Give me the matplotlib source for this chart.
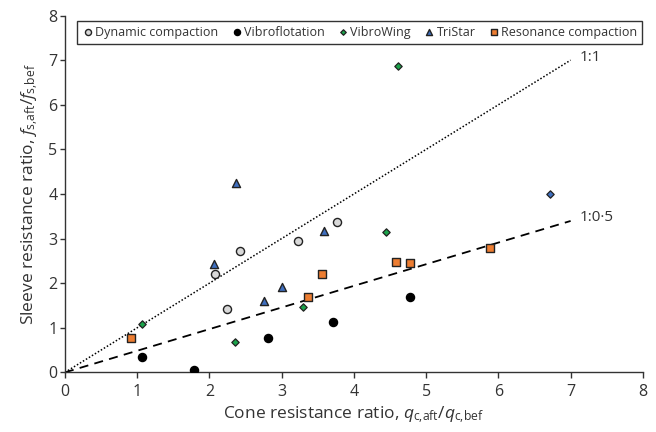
import matplotlib
matplotlib.use('Agg')
import numpy as np
from matplotlib import pyplot as plt

plt.rcParams['font.family'] = ['Open Sans', 'DejaVu Sans']
plt.rcParams['mathtext.fontset'] = 'custom'
plt.rcParams['mathtext.rm'] = 'Open Sans'
plt.rcParams['mathtext.it'] = 'Open Sans:italic'

# Data
dyn_x = [2.08, 2.42, 2.25, 3.23, 3.77]
dyn_y = [2.20, 2.72, 1.42, 2.95, 3.37]

vflot_x = [1.06, 1.78, 2.81, 3.71, 4.78]
vflot_y = [0.35, 0.06, 0.77, 1.14, 1.69]

vwing_x = [1.07, 2.36, 3.29, 4.44, 4.61]
vwing_y = [1.09, 0.69, 1.47, 3.15, 6.88]

tristar_x = [2.37, 2.06, 2.76, 3.00, 3.58]
tristar_y = [4.24, 2.43, 1.59, 1.92, 3.16]

# one blue point drawn as a diamond
tristar_d_x = [6.72]
tristar_d_y = [4.00]

reso_x = [0.92, 3.36, 3.56, 4.58, 4.78, 5.89]
reso_y = [0.77, 1.68, 2.20, 2.48, 2.45, 2.78]

line_x = [0, 7]
slope_11 = 1.0
slope_105 = 0.485

txt = '#333333'

fig = plt.figure(figsize=(6.56, 4.32), dpi=100)
ax = fig.add_axes([0.099, 0.138, 0.881, 0.826])

ax.plot(line_x, [slope_11 * v for v in line_x], ls=(0, (1, 1.3)), color='black', lw=1.1)
ax.plot(line_x, [slope_105 * v for v in line_x], ls=(0, (5, 3.5)), color='black', lw=1.3)
ax.text(7.13, 7.05, '1:1', fontsize=11, color=txt, va='center', ha='left')
ax.text(7.12, 3.48, '1:0·5', fontsize=11, color=txt, va='center', ha='left')

ax.scatter(dyn_x, dyn_y, marker='o', s=34, facecolor='#d9d9d9', edgecolor='#222222',
           linewidth=1.0, label='Dynamic compaction', zorder=3)
ax.scatter(vflot_x, vflot_y, marker='o', s=34, facecolor='black', edgecolor='black',
           linewidth=1.0, label='Vibroflotation', zorder=3)
ax.scatter(vwing_x, vwing_y, marker='D', s=14, facecolor='#1aa34a', edgecolor='#222222',
           linewidth=0.9, label='VibroWing', zorder=3)
ax.scatter(tristar_x, tristar_y, marker='^', s=34, facecolor='#3f6fbf', edgecolor='#222222',
           linewidth=1.0, label='TriStar', zorder=3)
ax.scatter(tristar_d_x, tristar_d_y, marker='D', s=14, facecolor='#3f6fbf', edgecolor='#222222',
           linewidth=0.9, zorder=3)
ax.scatter(reso_x, reso_y, marker='s', s=34, facecolor='#ed7d31', edgecolor='#222222',
           linewidth=1.0, label='Resonance compaction', zorder=3)

ax.set_xlim(0, 8)
ax.set_ylim(0, 8)
ax.set_xticks(range(0, 9))
ax.set_yticks(range(0, 9))
for s in ['top', 'right']:
    ax.spines[s].set_visible(False)
for s in ['left', 'bottom']:
    ax.spines[s].set_color('#333333')
    ax.spines[s].set_linewidth(1.0)
ax.tick_params(direction='out', width=1.0, color='#333333',
               labelsize=11.5, labelcolor=txt)
ax.tick_params(axis='x', length=4.5, pad=4)
ax.tick_params(axis='y', length=3.5, pad=2)

ax.set_xlabel(r'Cone resistance ratio, $q_{\mathrm{c{,}aft}}/q_{\mathrm{c{,}bef}}$',
              fontsize=12.5, color=txt, labelpad=3)
ax.set_ylabel(r'Sleeve resistance ratio, $f_{\mathrm{s{,}aft}}/f_{\mathrm{s{,}bef}}$',
              fontsize=12.5, color=txt, labelpad=5)

leg = ax.legend(loc='upper left', bbox_to_anchor=(0.02, 0.986), ncol=5, fontsize=9,
                frameon=True, fancybox=False, edgecolor='black', borderpad=0.4,
                handletextpad=0.1, columnspacing=0.95, handlelength=1.0,
                markerscale=0.75, borderaxespad=0)
leg.get_frame().set_linewidth(1.0)
for t in leg.get_texts():
    t.set_color(txt)

fig.savefig('out.png', dpi=100)
